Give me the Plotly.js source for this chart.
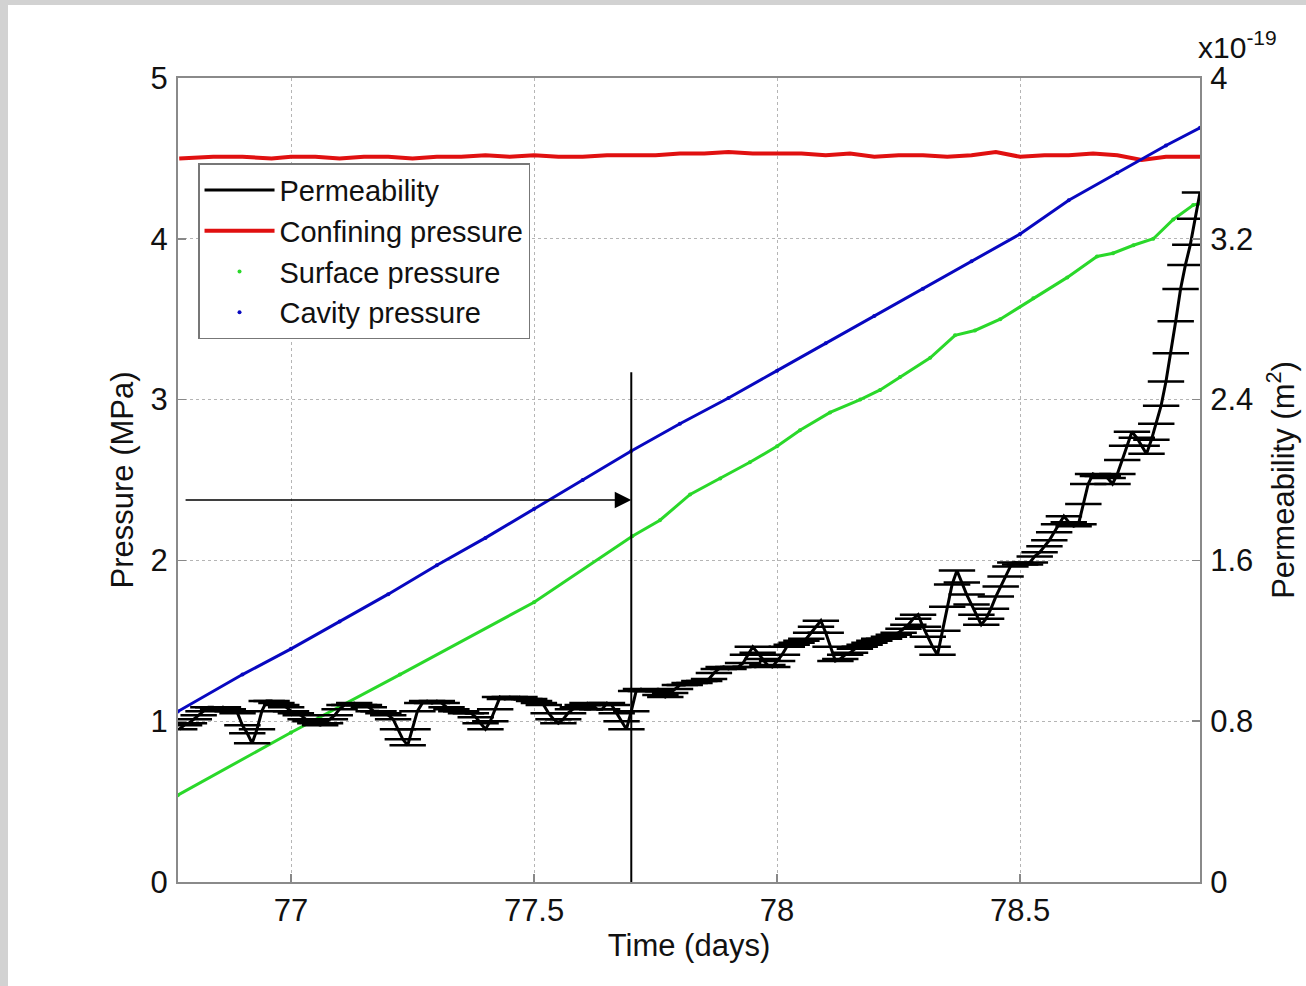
<!DOCTYPE html>
<html><head><meta charset="utf-8">
<script src="https://cdn.plot.ly/plotly-3.0.1.min.js"></script>
<style>
html,body{margin:0;padding:0;width:1306px;height:986px;overflow:hidden;
background:#d2d2d2;}
#chart{position:absolute;left:8px;top:5px;width:1298px;height:981px;background:#fff;}
</style></head><body><div id="chart"></div>
<script>
// Time axis (days) for permeability samples
const permTime = [
76.77,76.78,76.79,76.80,76.81,76.82,76.83,76.84,76.85,76.86,
76.87,76.88,76.89,76.90,76.91,76.92,76.93,76.94,76.95,76.96,
76.97,76.98,76.99,77.00,77.01,77.02,77.03,77.04,77.05,77.06,
77.07,77.08,77.09,77.10,77.11,77.12,77.13,77.14,77.15,77.16,
77.17,77.18,77.19,77.20,77.21,77.22,77.23,77.24,77.25,77.26,
77.27,77.28,77.29,77.30,77.31,77.32,77.33,77.34,77.35,77.36,
77.37,77.38,77.39,77.40,77.41,77.42,77.43,77.44,77.45,77.46,
77.47,77.48,77.49,77.50,77.51,77.52,77.53,77.54,77.55,77.56,
77.57,77.58,77.59,77.60,77.61,77.62,77.63,77.64,77.65,77.66,
77.67,77.68,77.69,77.70,77.71,77.72,77.73,77.74,77.75,77.76,
77.77,77.78,77.79,77.80,77.81,77.82,77.83,77.84,77.85,77.86,
77.87,77.88,77.89,77.90,77.91,77.92,77.93,77.94,77.95,77.96,
77.97,77.98,77.99,78.00,78.01,78.02,78.03,78.04,78.05,78.06,
78.07,78.08,78.09,78.10,78.11,78.12,78.13,78.14,78.15,78.16,
78.17,78.18,78.19,78.20,78.21,78.22,78.23,78.24,78.25,78.26,
78.27,78.28,78.29,78.30,78.31,78.32,78.33,78.34,78.35,78.36,
78.37,78.38,78.39,78.40,78.41,78.42,78.43,78.44,78.45,78.46,
78.47,78.48,78.49,78.50,78.51,78.52,78.53,78.54,78.55,78.56,
78.57,78.58,78.59,78.60,78.61,78.62,78.63,78.64,78.65,78.66,
78.67,78.68,78.69,78.70,78.71,78.72,78.73,78.74,78.75,78.76,
78.77,78.78,78.79,78.80,78.81,78.82,78.83,78.84,78.85,78.86,
78.87];
// Permeability, in units of 1e-19 m^2
const permValue = [
0.76,0.78,0.79,0.81,0.83,0.85,0.87,0.87,0.86,0.87,
0.86,0.85,0.84,0.78,0.74,0.69,0.76,0.85,0.90,0.90,
0.89,0.88,0.87,0.85,0.84,0.83,0.81,0.80,0.79,0.78,
0.79,0.81,0.83,0.86,0.88,0.88,0.89,0.88,0.88,0.87,
0.85,0.85,0.84,0.83,0.81,0.76,0.71,0.68,0.76,0.85,
0.89,0.90,0.89,0.90,0.89,0.87,0.86,0.85,0.85,0.84,
0.84,0.82,0.79,0.76,0.80,0.86,0.92,0.91,0.92,0.91,
0.92,0.91,0.91,0.90,0.89,0.88,0.84,0.81,0.79,0.81,
0.84,0.86,0.87,0.88,0.89,0.88,0.86,0.86,0.89,0.88,
0.84,0.80,0.76,0.85,0.95,0.96,0.95,0.95,0.95,0.93,
0.92,0.94,0.96,0.98,0.98,0.99,0.99,1.00,1.00,1.01,
1.04,1.06,1.07,1.06,1.07,1.07,1.09,1.13,1.17,1.14,
1.11,1.08,1.07,1.10,1.13,1.17,1.18,1.19,1.20,1.21,
1.24,1.27,1.30,1.24,1.17,1.10,1.11,1.13,1.14,1.16,
1.17,1.18,1.19,1.20,1.21,1.21,1.22,1.23,1.24,1.26,
1.28,1.31,1.33,1.27,1.22,1.17,1.13,1.25,1.37,1.48,
1.55,1.49,1.43,1.38,1.33,1.28,1.31,1.36,1.42,1.47,
1.52,1.57,1.59,1.58,1.58,1.59,1.62,1.64,1.67,1.70,
1.74,1.78,1.82,1.79,1.77,1.78,1.88,1.98,2.03,2.02,
2.02,2.01,1.98,2.03,2.10,2.17,2.24,2.21,2.17,2.13,
2.20,2.28,2.37,2.49,2.63,2.79,2.95,3.07,3.17,3.30,
3.43];

// Confining pressure (MPa)
const confTime  = [76.77,76.84,76.90,76.96,77.00,77.05,77.10,77.15,77.20,77.25,77.30,77.35,77.40,77.45,77.50,77.55,77.60,77.65,77.70,77.75,77.80,77.85,77.90,77.95,78.00,78.05,78.10,78.15,78.20,78.25,78.30,78.35,78.40,78.45,78.50,78.55,78.60,78.65,78.70,78.75,78.80,78.87];
const confValue = [4.50,4.51,4.51,4.50,4.51,4.51,4.50,4.51,4.51,4.50,4.51,4.51,4.52,4.51,4.52,4.51,4.51,4.52,4.52,4.52,4.53,4.53,4.54,4.53,4.53,4.53,4.52,4.53,4.51,4.52,4.52,4.51,4.52,4.54,4.51,4.52,4.52,4.53,4.52,4.49,4.51,4.51];

// Surface pressure (MPa)
const surfaceTime  = [76.767,77.00,77.224,77.50,77.702,77.759,77.821,77.883,77.944,78.00,78.047,78.109,78.171,78.212,78.253,78.315,78.366,78.407,78.459,78.527,78.597,78.658,78.691,78.733,78.774,78.815,78.856,78.870];
const surfaceValue = [0.54,0.93,1.29,1.74,2.15,2.25,2.41,2.51,2.61,2.71,2.81,2.92,3.00,3.06,3.14,3.26,3.40,3.43,3.50,3.63,3.76,3.89,3.91,3.96,4.00,4.12,4.21,4.22];

// Cavity pressure (MPa)
const cavityTime  = [76.767,76.90,77.00,77.10,77.20,77.30,77.40,77.50,77.60,77.70,77.80,77.90,78.00,78.10,78.20,78.30,78.40,78.50,78.60,78.70,78.80,78.87];
const cavityValue = [1.06,1.29,1.45,1.62,1.79,1.97,2.14,2.32,2.50,2.68,2.85,3.01,3.18,3.35,3.52,3.69,3.86,4.03,4.24,4.41,4.58,4.69];

const timeTicks = [77, 77.5, 78, 78.5];
const timeTickText = ['77', '77.5', '78', '78.5'];
const pressureTicks = [0, 1, 2, 3, 4, 5];
const permTicks = [0, 0.8, 1.6, 2.4, 3.2, 4];
const permTickText = ['0', '0.8', '1.6', '2.4', '3.2', '4'];

const FONT = 'Liberation Sans, Arial, Helvetica, sans-serif';
const RED = '#e01010', GREEN = '#2ad82a', BLUE = '#0808c0';

const traces = [
  {x: permTime, y: permValue, yaxis: 'y2', mode: 'lines', name: 'Permeability',
   line: {color: '#000', width: 3}, legendgroup: 'p'},
  {x: permTime, y: permValue, yaxis: 'y2', mode: 'markers', name: 'Permeability',
   showlegend: false, legendgroup: 'p',
   marker: {symbol: 'line-ew', size: 26, line: {color: '#000', width: 2.5}}},
  {x: confTime, y: confValue, mode: 'lines', name: 'Confining pressure',
   line: {color: RED, width: 4}},
  {x: surfaceTime, y: surfaceValue, mode: 'lines', name: 'Surface pressure',
   showlegend: false, legendgroup: 's', line: {color: GREEN, width: 3}},
  {x: surfaceTime, y: surfaceValue, mode: 'markers', name: 'Surface pressure',
   legendgroup: 's', marker: {color: GREEN, size: 4}},
  {x: cavityTime, y: cavityValue, mode: 'lines', name: 'Cavity pressure',
   showlegend: false, legendgroup: 'c', line: {color: BLUE, width: 3}},
  {x: cavityTime, y: cavityValue, mode: 'markers', name: 'Cavity pressure',
   legendgroup: 'c', marker: {color: BLUE, size: 4}}
];

const axisCommon = {
  ticks: 'inside', ticklen: 8, tickwidth: 1.5, tickcolor: '#888',
  showline: true, linecolor: '#8a8a8a', linewidth: 2,
  zeroline: false, tickfont: {family: FONT, size: 31, color: '#111'}
};

const layout = {
  width: 1298, height: 981,
  margin: {l: 170, r: 106, t: 73, b: 104},
  paper_bgcolor: '#fff', plot_bgcolor: '#fff',
  font: {family: FONT, color: '#111'},
  showlegend: true,
  legend: {x: 0.0196, y: 0.894, xanchor: 'left', yanchor: 'top',
    bgcolor: '#fff', bordercolor: '#777', borderwidth: 1.5,
    font: {family: FONT, size: 29, color: '#111'}, itemwidth: 70,
    tracegroupgap: 0},
  xaxis: Object.assign({}, axisCommon, {
    range: [76.7675, 78.870], tickvals: timeTicks, ticktext: timeTickText,
    mirror: true, showgrid: true, gridcolor: '#b5b5b5', griddash: 'dot', gridwidth: 1,
    ticklabelstandoff: 0,
    title: {text: 'Time (days)', font: {family: FONT, size: 31, color: '#111'}, standoff: 2}
  }),
  yaxis: Object.assign({}, axisCommon, {
    range: [0, 5], tickvals: pressureTicks, mirror: true,
    showgrid: true, gridcolor: '#b5b5b5', griddash: 'dot', gridwidth: 1,
    ticklabelstandoff: 2,
    title: {text: 'Pressure (MPa)', font: {family: FONT, size: 31, color: '#111'}, standoff: 8}
  }),
  yaxis2: Object.assign({}, axisCommon, {
    overlaying: 'y', side: 'right', range: [0, 4],
    tickvals: permTicks, ticktext: permTickText, showgrid: false,
    ticklabelstandoff: 2,
    title: {text: 'Permeability (m<sup>2</sup>)', font: {family: FONT, size: 31, color: '#111'}, standoff: 20}
  }),
  shapes: [
    {type: 'line', xref: 'x', yref: 'y', x0: 77.70, x1: 77.70, y0: 0, y1: 3.17,
     line: {color: '#000', width: 2}}
  ],
  annotations: [
    {xref: 'x', yref: 'y', axref: 'x', ayref: 'y', x: 77.70, y: 2.376, ax: 76.78, ay: 2.376,
     text: '', showarrow: true, arrowhead: 2, arrowsize: 2.2, arrowwidth: 1.5, arrowcolor: '#000',
     standoff: 0},
    {xref: 'paper', yref: 'paper', x: 1.0, y: 1.0, xanchor: 'left', yanchor: 'bottom',
     yshift: 12, xshift: -4, showarrow: false,
     text: 'x10<sup>-19</sup>', font: {family: FONT, size: 30, color: '#111'}}
  ]
};

Plotly.newPlot('chart', traces, layout, {displayModeBar: false, staticPlot: true});
</script>
</body></html>
